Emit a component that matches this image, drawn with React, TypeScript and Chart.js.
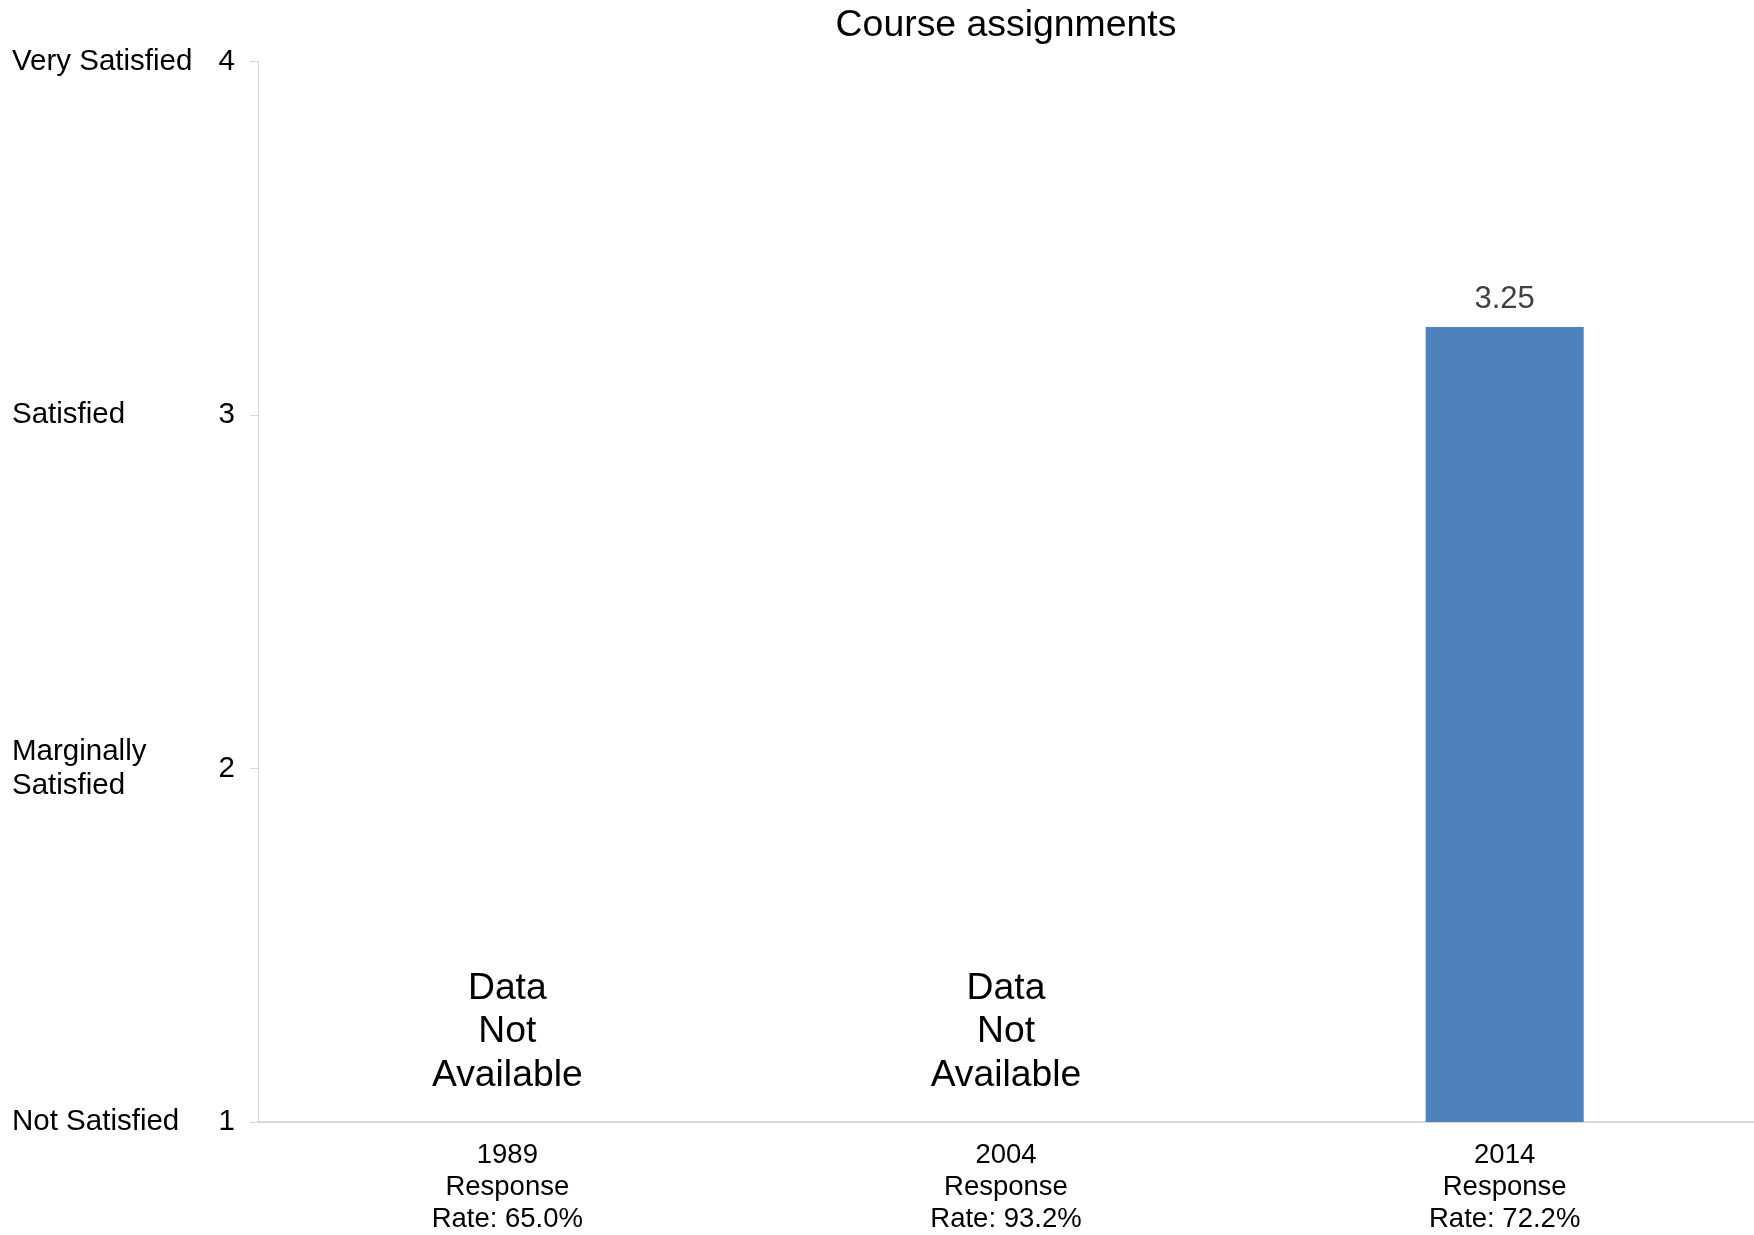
import React, { useEffect, useRef } from "react";
import { Chart, registerables } from "chart.js";

Chart.register(...registerables);

const TITLE = "Course assignments";
const CATEGORIES: string[][] = [
  ["1989", "Response", "Rate: 65.0%"],
  ["2004", "Response", "Rate: 93.2%"],
  ["2014", "Response", "Rate: 72.2%"],
];
const VALUES: (number | null)[] = [null, null, 3.25];
const VALUE_LABELS: string[] = ["", "", "3.25"];
const MISSING_TEXT: string[] = ["Data", "Not", "Available"];
const Y_LEVEL_LABELS: (string | string[])[] = [
  "Not Satisfied",
  ["Marginally", "Satisfied"],
  "Satisfied",
  "Very Satisfied",
];
const Y_MIN = 1;
const Y_MAX = 4;

const FONT = "'Liberation Sans', Arial, Helvetica, sans-serif";

const annotationPlugin = {
  id: "annot",
  afterDatasetsDraw(chart: any) {
    const ctx = chart.ctx;
    const x = chart.scales.x;
    const y = chart.scales.y;
    const meta = chart.getDatasetMeta(0);
    ctx.save();
    VALUES.forEach((v, i) => {
      const cx = x.getPixelForValue(i);
      if (v === null) {
        ctx.font = `37.3px ${FONT}`;
        ctx.fillStyle = "#000000";
        ctx.textAlign = "center";
        ctx.textBaseline = "middle";
        const lh = 43.5;
        const cy = y.getPixelForValue(1.255);
        MISSING_TEXT.forEach((t, k) => {
          ctx.fillText(t, cx, cy + (k - (MISSING_TEXT.length - 1) / 2) * lh);
        });
      } else {
        const bar = meta.data[i];
        ctx.font = `31px ${FONT}`;
        ctx.fillStyle = "#404040";
        ctx.textAlign = "center";
        ctx.textBaseline = "alphabetic";
        ctx.fillText(VALUE_LABELS[i], bar.x, bar.y - 19);
      }
    });
    ctx.restore();
  },
};

export default function App() {
  const ref = useRef<HTMLCanvasElement | null>(null);
  useEffect(() => {
    document.body.style.margin = "0";
    const canvas = ref.current;
    if (!canvas) return;
    const chart = new Chart(canvas, {
      type: "bar",
      data: {
        labels: CATEGORIES,
        datasets: [
          {
            data: VALUES,
            backgroundColor: "#4F81BD",
            borderWidth: 0,
            categoryPercentage: 1,
            barPercentage: 0.317,
            yAxisID: "y",
          },
        ],
      },
      options: {
        animation: false,
        responsive: true,
        maintainAspectRatio: false,
        layout: { padding: { left: 12, right: 0, top: 3, bottom: 0 } },
        plugins: {
          legend: { display: false },
          tooltip: { enabled: false },
          title: {
            display: true,
            fullSize: false,
            text: TITLE,
            color: "#000000",
            font: { family: FONT, size: 37.4, weight: "normal" },
            padding: { top: 0, bottom: 14 },
          },
        },
        scales: {
          x: {
            grid: { display: true, drawOnChartArea: false, drawTicks: false },
            border: { display: true, color: "#d9d9d9", width: 2 },
            ticks: {
              color: "#000000",
              font: { family: FONT, size: 27.5, lineHeight: 1.17 },
              padding: 17,
              maxRotation: 0,
              autoSkip: false,
            },
            afterFit: (s: any) => {
              s.height = 113;
            },
          },
          y: {
            position: "left",
            weight: 0,
            min: Y_MIN,
            max: Y_MAX,
            grid: { display: true, drawOnChartArea: false, drawTicks: true, tickLength: 8, color: "#d9d9d9" },
            border: { display: true, color: "#d9d9d9", width: 1 },
            ticks: {
              stepSize: 1,
              padding: 15,
              color: "#000000",
              font: { family: FONT, size: 29.5 },
            },
            afterFit: (s: any) => {
              s.width = 46;
            },
          },
          yText: {
            type: "linear",
            position: "left",
            weight: 1,
            min: Y_MIN,
            max: Y_MAX,
            grid: { display: false },
            border: { display: false },
            ticks: {
              stepSize: 1,
              crossAlign: "far",
              color: "#000000",
              font: { family: FONT, size: 29.5, lineHeight: 1.17 },
              callback: (v: any) => Y_LEVEL_LABELS[Math.round(Number(v)) - Y_MIN] as any,
            },
            afterFit: (s: any) => {
              s.width = 200;
            },
          },
        },
      } as any,
      plugins: [annotationPlugin],
    });
    return () => chart.destroy();
  }, []);
  return (
    <div style={{ position: "absolute", left: 0, top: 0, width: 1754, height: 1235 }}>
      <canvas ref={ref} />
    </div>
  );
}
